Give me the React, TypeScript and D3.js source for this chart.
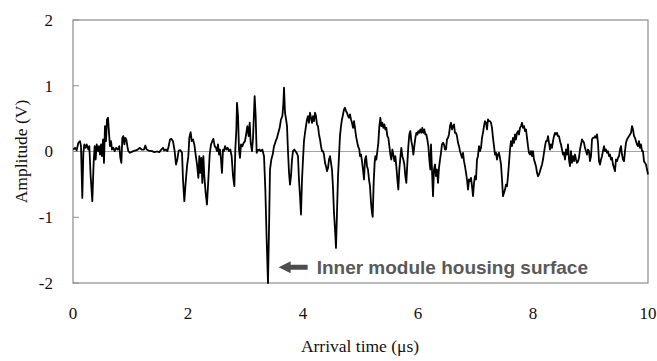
import React from "react";
import * as d3 from "d3";

const timeUs: number[] = [
  0.006, 0.035, 0.064, 0.093, 0.122, 0.139, 0.162, 0.18, 0.197, 0.22, 0.238, 0.267, 0.284, 0.307, 0.336, 0.359, 0.377, 0.394, 0.412, 0.435, 0.452, 0.47, 0.487, 0.504, 0.522, 0.539, 0.556, 0.574, 0.591, 0.609, 0.626, 0.643, 0.661, 0.678, 0.701, 0.725, 0.748, 0.777, 0.806, 0.823, 0.841, 0.858, 0.875, 0.893, 0.91, 0.927, 0.945, 0.962, 0.991, 1.049, 1.107, 1.165, 1.194, 1.235,
  1.258, 1.281, 1.316, 1.374, 1.414, 1.461, 1.501, 1.536, 1.565, 1.588, 1.617, 1.641, 1.664, 1.687, 1.71, 1.739, 1.768, 1.791, 1.814, 1.838, 1.867, 1.896, 1.913, 1.936, 1.959, 1.983, 2.006, 2.023, 2.046, 2.064, 2.087, 2.11, 2.133, 2.157, 2.18, 2.197, 2.214, 2.232, 2.249, 2.267, 2.284, 2.307, 2.33, 2.354, 2.377, 2.4, 2.423, 2.441, 2.464, 2.487,
  2.504, 2.522, 2.539, 2.557, 2.574, 2.591, 2.609, 2.626, 2.644, 2.667, 2.69, 2.713, 2.736, 2.759, 2.783, 2.806, 2.823, 2.841, 2.852, 2.87, 2.887, 2.904, 2.922, 2.945, 2.968, 2.991, 3.015, 3.032, 3.055, 3.073, 3.09, 3.113, 3.131, 3.148, 3.159, 3.177, 3.194, 3.217, 3.241, 3.264, 3.293, 3.322, 3.345, 3.368, 3.391, 3.409, 3.426, 3.449, 3.473, 3.496, 3.525, 3.548, 3.571, 3.594, 3.617, 3.641, 3.658, 3.67, 3.687,
  3.704, 3.722, 3.739, 3.757, 3.774, 3.791, 3.809, 3.826, 3.849, 3.867, 3.89, 3.913, 3.93, 3.948, 3.965, 3.983, 4.0, 4.017, 4.035, 4.052, 4.07, 4.087, 4.104, 4.122, 4.139, 4.157, 4.174, 4.191, 4.209, 4.226, 4.243, 4.261, 4.278, 4.296, 4.313, 4.33, 4.348, 4.365, 4.383, 4.4, 4.417, 4.435, 4.452, 4.47, 4.487, 4.504, 4.522, 4.539, 4.557, 4.574, 4.591, 4.609, 4.626, 4.643, 4.661, 4.678, 4.696, 4.713, 4.73, 4.748, 4.765, 4.783, 4.8, 4.817, 4.835, 4.852, 4.87, 4.887, 4.904, 4.922, 4.939, 4.957, 4.98,
  4.991, 5.009, 5.026, 5.043, 5.061, 5.078, 5.096, 5.113, 5.13, 5.148, 5.165, 5.183, 5.2, 5.212, 5.229, 5.246, 5.258, 5.275, 5.293, 5.31, 5.328, 5.345, 5.362, 5.38, 5.397, 5.415, 5.432, 5.449, 5.467, 5.484, 5.502, 5.519, 5.536, 5.554, 5.571, 5.589, 5.606, 5.623, 5.641, 5.658, 5.675, 5.693, 5.71, 5.728, 5.745, 5.762, 5.78, 5.797, 5.815, 5.832, 5.849, 5.867, 5.884, 5.902, 5.919, 5.936, 5.954, 5.971, 5.989, 6.006, 6.023, 6.041, 6.058, 6.075, 6.093, 6.11, 6.128, 6.145, 6.162, 6.18, 6.197, 6.214,
  6.226, 6.243, 6.261, 6.278, 6.296, 6.313, 6.33, 6.348, 6.365, 6.383, 6.4, 6.417, 6.435, 6.452, 6.47, 6.487, 6.504, 6.522, 6.539, 6.557, 6.574, 6.591, 6.609, 6.626, 6.643, 6.661, 6.678, 6.696, 6.713, 6.73, 6.748, 6.765, 6.783, 6.8, 6.817, 6.835, 6.852, 6.87, 6.887, 6.904, 6.922, 6.939, 6.957, 6.974, 6.991, 7.009, 7.026, 7.043, 7.061, 7.078, 7.096, 7.113, 7.13, 7.148, 7.165, 7.183, 7.2, 7.217, 7.235, 7.252, 7.27, 7.287, 7.304, 7.322, 7.339, 7.357, 7.374, 7.391, 7.409, 7.426, 7.444, 7.461, 7.478, 7.496,
  7.513, 7.53, 7.548, 7.565, 7.583, 7.6, 7.617, 7.635, 7.652, 7.67, 7.687, 7.704, 7.722, 7.739, 7.757, 7.774, 7.791, 7.809, 7.826, 7.844, 7.861, 7.878, 7.896, 7.913, 7.93, 7.948, 7.965, 7.983, 8.0, 8.017, 8.035, 8.052, 8.07, 8.087, 8.104, 8.122, 8.139, 8.157, 8.174, 8.191, 8.209, 8.226, 8.243, 8.261, 8.278, 8.296, 8.313, 8.33, 8.348, 8.365, 8.383, 8.4, 8.417, 8.435, 8.452, 8.47, 8.487, 8.504, 8.522, 8.539, 8.557, 8.574, 8.591, 8.609, 8.626, 8.643, 8.661, 8.678, 8.696, 8.713, 8.73, 8.748,
  8.765, 8.783, 8.8, 8.817, 8.835, 8.852, 8.87, 8.887, 8.904, 8.922, 8.939, 8.957, 8.974, 8.991, 9.009, 9.026, 9.043, 9.061, 9.078, 9.096, 9.113, 9.13, 9.148, 9.165, 9.183, 9.2, 9.217, 9.235, 9.252, 9.27, 9.287, 9.304, 9.322, 9.339, 9.357, 9.374, 9.391, 9.409, 9.426, 9.443, 9.461, 9.478, 9.496, 9.513, 9.53, 9.548, 9.565, 9.583, 9.6, 9.617, 9.635, 9.652, 9.67, 9.687, 9.704, 9.722, 9.739, 9.757, 9.774, 9.791, 9.809, 9.826, 9.843, 9.861, 9.878, 9.896, 9.913, 9.93, 9.948, 9.965, 9.983, 10.0,
];

const amplitudeV: number[] = [
  0.03, 0.056, 0.02, 0.132, 0.157, 0.081, -0.706, -0.02, 0.107, 0.056, 0.107, 0.03, 0.081, -0.376, -0.756, -0.173, 0.081, -0.122, 0.107, 0.005, 0.081, -0.046, 0.107, -0.071, 0.183, -0.173, 0.386, 0.157, 0.487, 0.513, 0.284, 0.081, 0.157, 0.03, 0.056, 0.005, 0.056, 0.03, 0.081, -0.096, -0.173, 0.208, 0.234, 0.107, 0.208, 0.183, 0.081, 0.005, -0.02, 0.005, 0.02, 0.056, 0.03, 0.03,
  0.091, 0.03, 0.015, 0.005, -0.01, 0.0, -0.01, 0.03, 0.056, 0.015, 0.03, 0.005, 0.081, 0.183, 0.193, 0.157, 0.005, -0.198, -0.122, 0.015, 0.02, -0.02, -0.426, -0.756, -0.477, -0.223, -0.071, 0.208, 0.294, 0.157, 0.183, 0.107, -0.046, -0.198, -0.401, -0.071, -0.325, -0.096, -0.477, -0.071, -0.376, -0.629, -0.807, -0.426, -0.046, 0.107, 0.157, 0.193, 0.081, 0.056,
  0.005, 0.107, -0.046, 0.03, -0.122, -0.325, 0.03, 0.005, 0.081, 0.03, 0.056, 0.005, 0.03, -0.071, -0.376, -0.528, 0.03, 0.335, 0.741, 0.538, 0.03, -0.096, 0.107, 0.081, 0.132, 0.157, 0.284, 0.386, 0.234, 0.437, 0.132, 0.005, 0.208, 0.589, 0.843, 0.538, -0.02, 0.02, 0.03, 0.005, 0.03, -0.071, -0.579, -1.34, -2.0, -1.188, -0.274, -0.122, -0.046, 0.081, 0.157, 0.208, 0.284, 0.36, 0.487, 0.538, 0.716, 0.97, 0.589,
  0.5, 0.386, 0.005, -0.325, -0.503, -0.376, -0.122, 0.005, 0.03, 0.005, -0.02, -0.071, -0.426, -0.68, -0.959, -0.426, -0.122, 0.157, 0.284, 0.386, 0.487, 0.538, 0.437, 0.589, 0.513, 0.437, 0.538, 0.462, 0.589, 0.538, 0.411, 0.386, 0.259, 0.183, 0.081, 0.005, 0.005, -0.046, -0.173, -0.223, -0.299, -0.249, -0.122, -0.071, -0.173, -0.274, -0.553, -0.934, -1.188, -1.467, -0.934, -0.376, -0.071, 0.234, 0.386, 0.487, 0.563, 0.64, 0.665, 0.614, 0.589, 0.538, 0.513, 0.563, 0.487, 0.437, 0.36, 0.462, 0.36, 0.234, 0.157, 0.081, 0.03,
  -0.071, -0.046, -0.147, -0.274, -0.426, -0.122, -0.071, -0.223, -0.274, -0.426, -0.528, -0.782, -0.934, -0.995, -0.477, -0.173, -0.071, -0.122, 0.005, 0.132, 0.386, 0.513, 0.386, 0.437, 0.36, 0.411, 0.335, 0.36, 0.234, 0.208, 0.081, -0.046, -0.122, 0.03, -0.046, -0.147, -0.071, -0.223, -0.426, -0.579, -0.274, -0.096, 0.056, -0.071, -0.122, -0.198, -0.376, -0.477, -0.173, 0.081, 0.259, 0.31, 0.157, 0.081, -0.046, 0.081, 0.208, 0.284, 0.259, 0.31, 0.284, 0.335, 0.284, 0.36, 0.284, 0.335, 0.259, 0.259, 0.183, 0.081, -0.122, -0.274,
  0.107, -0.274, -0.68, -0.274, -0.198, -0.376, -0.274, -0.477, -0.249, -0.122, -0.02, 0.107, 0.132, 0.107, 0.03, 0.03, 0.183, 0.208, 0.259, 0.386, 0.437, 0.335, 0.386, 0.411, 0.284, 0.284, 0.234, 0.132, 0.081, 0.005, -0.046, -0.096, -0.02, -0.147, -0.223, -0.325, -0.426, -0.579, -0.426, -0.452, -0.401, -0.528, -0.68, -0.477, -0.376, -0.426, -0.122, -0.071, 0.081, 0.005, 0.056, 0.208, 0.284, 0.386, 0.462, 0.437, 0.335, 0.487, 0.462, 0.462, 0.437, 0.36, 0.208, 0.081, -0.046, -0.02, -0.122, -0.046, -0.02, -0.096, -0.198, -0.426, -0.68, -0.629,
  -0.579, -0.503, -0.528, -0.376, -0.173, 0.03, 0.157, 0.081, 0.208, 0.132, 0.259, 0.183, 0.284, 0.31, 0.259, 0.36, 0.386, 0.437, 0.36, 0.386, 0.31, 0.335, 0.208, 0.081, -0.02, -0.046, 0.005, -0.071, 0.005, -0.122, -0.173, -0.223, -0.325, -0.376, -0.35, -0.299, -0.249, -0.198, -0.122, -0.02, 0.081, 0.157, 0.157, 0.234, 0.132, 0.03, 0.107, 0.056, 0.157, 0.234, 0.284, 0.259, 0.284, 0.234, 0.234, 0.157, 0.107, 0.03, -0.046, -0.02, -0.122, 0.03, -0.046, 0.107, -0.122, -0.223, 0.005, -0.173, -0.071, -0.147, -0.046, -0.122,
  -0.173, -0.147, -0.096, 0.03, 0.107, 0.183, 0.157, 0.132, 0.056, 0.005, -0.046, 0.03, 0.005, -0.147, -0.071, 0.183, 0.208, 0.208, 0.234, 0.208, 0.259, 0.132, -0.147, -0.198, -0.122, -0.071, 0.005, 0.081, 0.005, 0.03, -0.02, 0.005, -0.071, -0.046, -0.122, -0.096, -0.198, -0.249, -0.299, -0.122, -0.147, -0.096, -0.071, 0.03, 0.081, -0.046, -0.122, -0.147, 0.005, 0.132, 0.183, 0.208, 0.234, 0.259, 0.284, 0.386, 0.335, 0.234, 0.208, 0.157, 0.107, 0.081, 0.157, 0.056, 0.107, 0.005, 0.005, -0.147, -0.173, -0.198, -0.274, -0.35,
];

const xTicks: number[] = [0, 2, 4, 6, 8, 10];
const yTicks: number[] = [-2, -1, 0, 1, 2];
const xLabel = "Arrival time (μs)";
const yLabel = "Amplitude (V)";
const annotationText = "Inner module housing surface";
const annotationTime = 3.42;
const annotationAmp = -1.76;

const W = 657;
const H = 361;
const M = { left: 73, right: 9, top: 20, bottom: 78 };

export default function App() {
  const x = d3.scaleLinear().domain([0, 10]).range([M.left, W - M.right]);
  const y = d3.scaleLinear().domain([-2, 2]).range([H - M.bottom, M.top]);
  const pts: [number, number][] = timeUs.map((t, i) => [t, amplitudeV[i]]);
  const line = d3
    .line<[number, number]>()
    .x((d) => x(d[0]))
    .y((d) => y(d[1]));

  const ax = x(annotationTime);
  const ay = y(annotationAmp);
  const serif = "'Liberation Serif', 'Times New Roman', serif";

  return (
    <svg
      width={W}
      height={H}
      style={{ position: "absolute", left: 0, top: 0, background: "#fff" }}
    >
      <rect
        x={x(0)}
        y={y(2)}
        width={x(10) - x(0)}
        height={y(-2) - y(2)}
        fill="none"
        stroke="#8c8c8c"
        strokeWidth={1.2}
      />
      <line x1={x(0)} x2={x(10)} y1={y(0)} y2={y(0)} stroke="#9a9a9a" strokeWidth={0.9} />
      {yTicks.map((v) => (
        <g key={"y" + v}>
          <line x1={x(0)} x2={x(0) + 6} y1={y(v)} y2={y(v)} stroke="#8c8c8c" strokeWidth={1} />
          <text
            x={x(0) - 20}
            y={y(v)}
            dy="0.35em"
            textAnchor="end"
            fontFamily={serif}
            fontSize={17}
            fill="#111"
          >
            {v}
          </text>
        </g>
      ))}
      {xTicks.map((v) => (
        <text
          key={"x" + v}
          x={x(v)}
          y={319}
          textAnchor="middle"
          fontFamily={serif}
          fontSize={17}
          fill="#111"
        >
          {v}
        </text>
      ))}
      <text x={360} y={352} textAnchor="middle" fontFamily={serif} fontSize={17.5} fill="#111">
        {xLabel}
      </text>
      <text
        transform={`translate(27,${y(0)}) rotate(-90)`}
        textAnchor="middle"
        fontFamily={serif}
        fontSize={17.5}
        fill="#111"
      >
        {yLabel}
      </text>
      <path d={line(pts) || ""} fill="none" stroke="#000" strokeWidth={1.8} strokeLinejoin="round" />
      <g fill="#4d4d4d">
        <polygon
          points={`${ax + 9},${ay} ${ax + 21},${ay - 6} ${ax + 21},${ay - 2.5} ${ax + 38},${ay - 2.5} ${ax + 38},${ay + 2.5} ${ax + 21},${ay + 2.5} ${ax + 21},${ay + 6}`}
        />
        <text
          x={ax + 47}
          y={ay}
          dy="0.36em"
          fontFamily="'Liberation Sans', Arial, sans-serif"
          fontWeight="bold"
          fontSize={19}
          fill="#595959"
        >
          {annotationText}
        </text>
      </g>
    </svg>
  );
}
